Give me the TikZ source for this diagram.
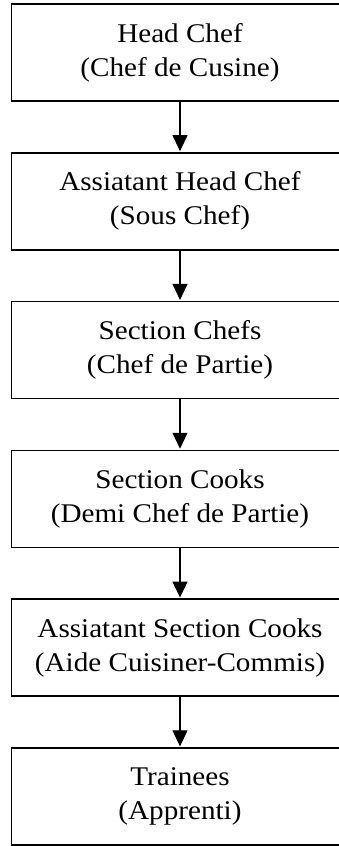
\documentclass[tikz,border=0pt]{standalone}
\usepackage{fontspec}
\setmainfont{Liberation Serif}[FakeStretch=1.08]
\usetikzlibrary{arrows.meta}
\begin{document}
\begin{tikzpicture}[x=1pt,y=1pt,
  rolebox/.style={draw=black, line width=1.7pt, minimum width=337pt, minimum height=97pt,
    inner sep=0pt, align=center, font=\fontsize{27}{34}\selectfont},
  link/.style={line width=1.1pt, -{Triangle[length=16pt,width=15pt]}, shorten >=0.8pt}]
\useasboundingbox (0,0) rectangle (339,-846);
\fill[white] (0,0) rectangle (339,-846);
\clip (0,0) rectangle (339,-846);
\node[rolebox] (b1) at (180,-52.5) {Head Chef\\(Chef de Cusine)};
\node[rolebox] (b2) at (180,-201.3) {Assiatant Head Chef\\(Sous Chef)};
\node[rolebox] (b3) at (180,-350.1) {Section Chefs\\(Chef de Partie)};
\node[rolebox] (b4) at (180,-498.9) {Section Cooks\\(Demi Chef de Partie)};
\node[rolebox] (b5) at (180,-647.7) {Assiatant Section Cooks\\(Aide Cuisiner-Commis)};
\node[rolebox] (b6) at (180,-796.5) {Trainees\\(Apprenti)};
\draw[link] (b1) -- (b2);
\draw[link] (b2) -- (b3);
\draw[link] (b3) -- (b4);
\draw[link] (b4) -- (b5);
\draw[link] (b5) -- (b6);
\end{tikzpicture}
\end{document}
